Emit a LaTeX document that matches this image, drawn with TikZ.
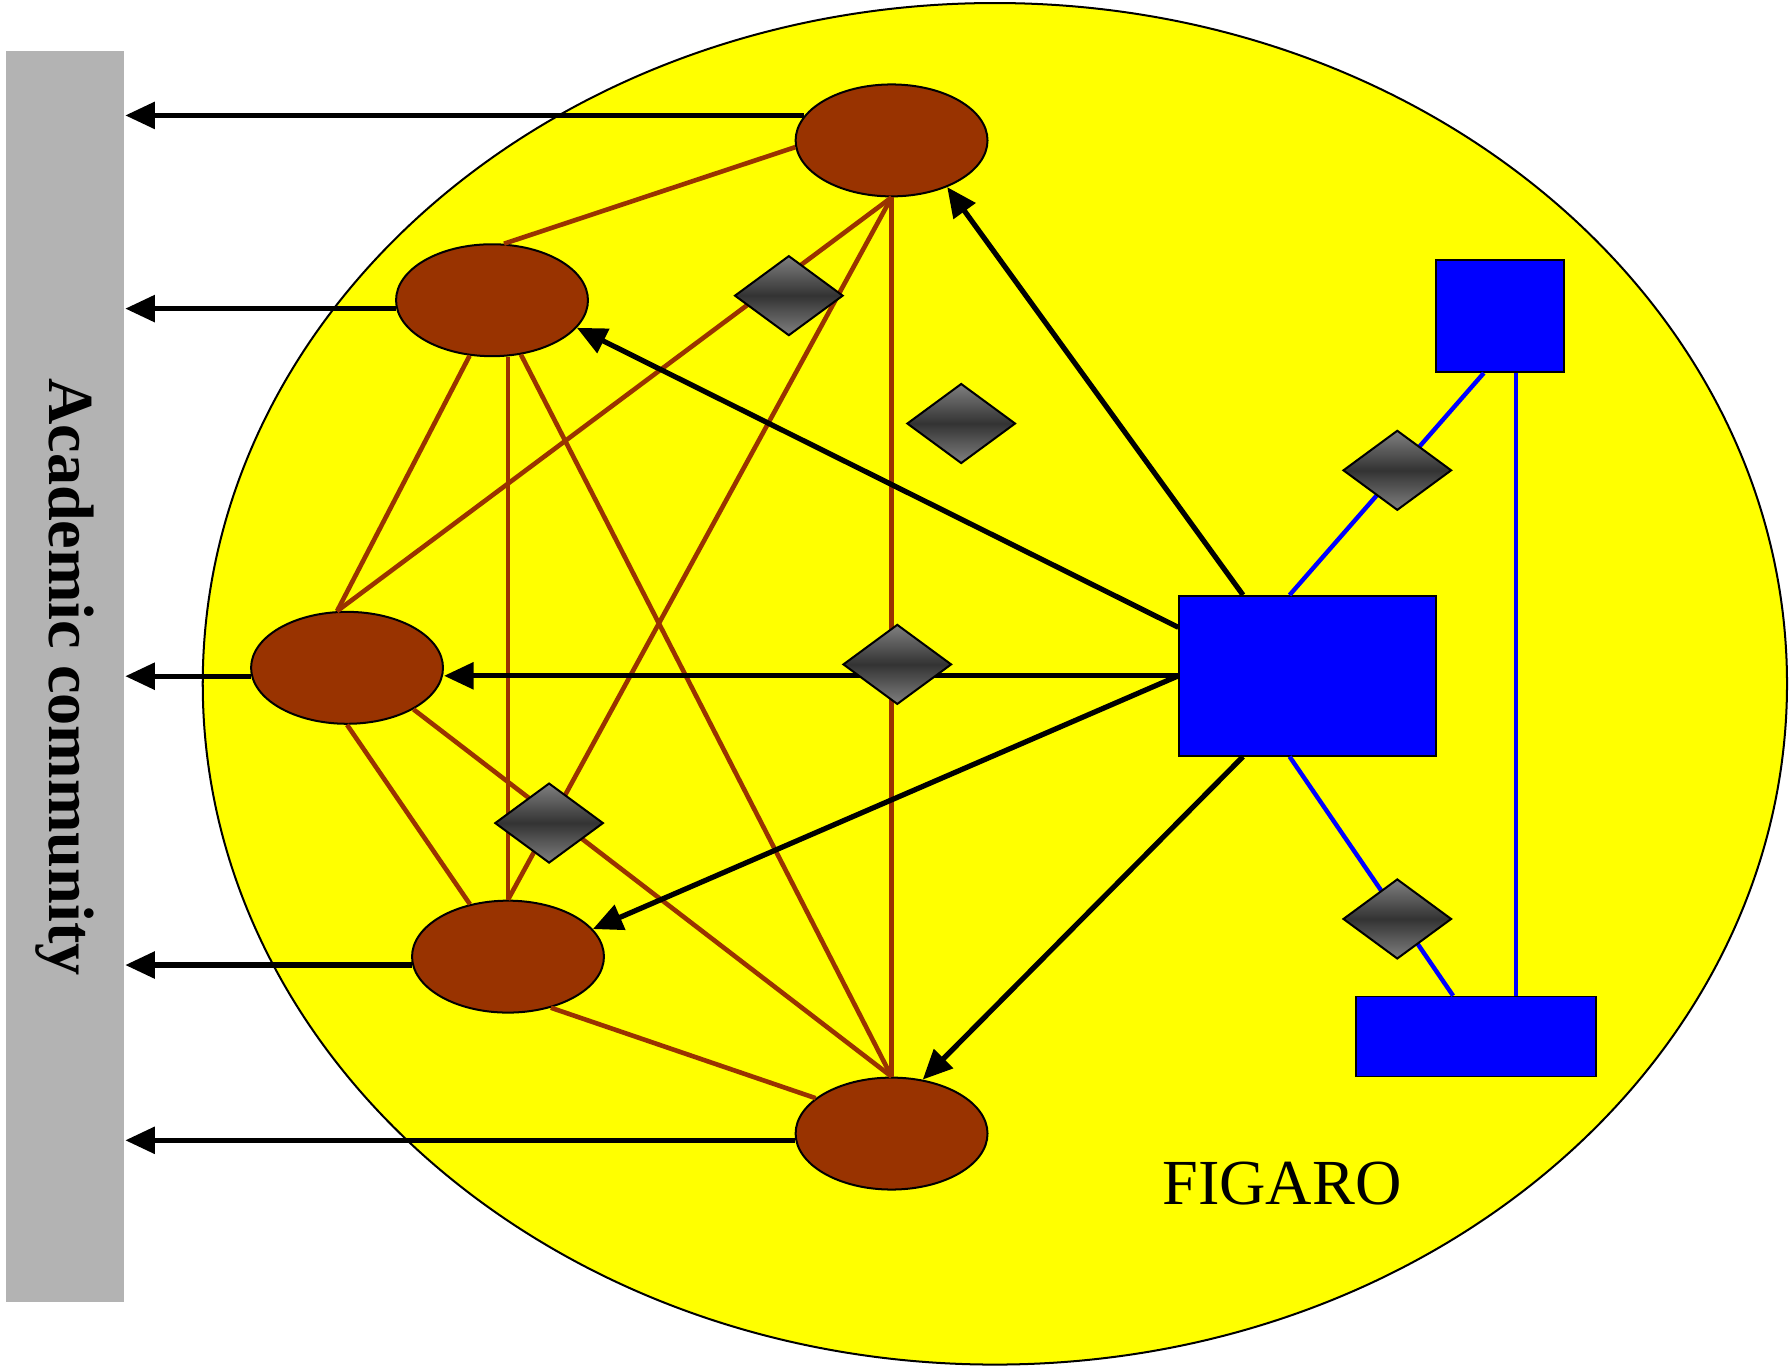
\documentclass[tikz,border=0pt]{standalone}
\usepackage{fontspec}
\setmainfont{Liberation Serif}
\usetikzlibrary{shapes.geometric,arrows.meta,calc}
\definecolor{rust}{RGB}{153,51,0}
\definecolor{barcol}{RGB}{179,179,179}
\definecolor{sun}{RGB}{255,255,0}
\definecolor{deepblue}{RGB}{0,0,255}
\tikzstyle{site}=[ellipse, fill=rust, draw=black, line width=0.5pt, minimum width=1.68cm, minimum height=0.98cm, inner sep=0pt]
\tikzstyle{blk}=[rectangle, fill=deepblue, draw=black, line width=0.4pt, inner sep=0pt, anchor=center]
\tikzstyle{gem}=[diamond, draw=black, line width=0.5pt, top color=gray, bottom color=gray, middle color=black!80, minimum width=0.95cm, minimum height=0.70cm, inner sep=0pt]
\tikzstyle{link}=[draw=rust, line width=1.15pt]
\tikzstyle{wire}=[draw=deepblue, line width=1.1pt]
\tikzstyle{push}=[draw=black, line width=1.3pt, -{Triangle[length=0.26cm,width=0.23cm]}]
\begin{document}
\begin{tikzpicture}[x=0.01cm, y=-0.01cm]
	\useasboundingbox (0,0) rectangle (1568,1197);

	% FIGARO area and the academic side
	\draw[fill=sun, line width=0.5pt] (871.5,599) ellipse [x radius=6.935cm, y radius=5.96cm];
	\node[rectangle, fill=barcol, minimum width=1.04cm, minimum height=10.95cm, inner sep=0pt] (bar) at (57,592.5) {};
	\node[rotate=-90, font=\fontsize{16}{19}\selectfont\bfseries] (barlabel) at (57,593) {Academic community};
	\node[font=\fontsize{16}{19}\selectfont] (figaro) at (1123,1037) {FIGARO};

	\node[site] (e1) at (781,123) {};
	\node[site] (e2) at (431,263) {};
	\node[site] (e3) at (304,585) {};
	\node[site] (e4) at (445,838) {};
	\node[site] (e5) at (781,993) {};

	\node[blk, minimum width=2.25cm, minimum height=1.40cm] (hub) at (1145.5,592) {};
	\node[blk, minimum width=1.12cm, minimum height=0.98cm] (tbox) at (1314,277) {};
	\node[blk, minimum width=2.10cm, minimum height=0.70cm] (bbox) at (1293,908) {};

	% mesh between the sites
	\draw[link] (e1.184) -- (e2.78);
	\draw[link] (e1.south) -- (e3.100);
	\draw[link] (e1.south) -- (e4.north);
	\draw[link] (e1.south) -- (e5.north);
	\draw[link] (e2.248) -- (e3.100);
	\draw[link] (e4.north |- e2.south) -- (e4.north);
	\draw[link] (e2.-62) -- (e5.north);
	\draw[link] (e3.-32) -- (e5.north);
	\draw[link] (e3.south) -- (e4.126);
	\draw[link] (e4.-50) -- (e5.155);

	% out to the academic community
	\draw[push] (e1.164) -- (e1.164 -| bar.east);
	\draw[push] (e2.185) -- (e2.185 -| bar.east);
	\draw[push] (e3.185) -- (e3.185 -| bar.east);
	\draw[push] (e4.185) -- (e4.185 -| bar.east);
	\draw[push] (e5.184) -- (e5.184 -| bar.east);

	% from the hub to the sites
	\draw[push] ($(hub.north west)!0.25!(hub.north east)$) -- (e1.-40);
	\draw[push] ($(hub.north west)!0.2!(hub.south west)$) -- (e2.-18);
	\draw[push] (hub.west) -- (hub.west -| e3.east);
	\draw[push] (hub.west) -- (e4.18);
	\draw[push] ($(hub.south west)!0.25!(hub.south east)$) -- (e5.60);

	\draw[wire] ($(hub.north west)!0.43!(hub.north east)$) -- ($(tbox.south west)!0.375!(tbox.south east)$);
	\draw[wire] ($(hub.south west)!0.43!(hub.south east)$) -- ($(bbox.north west)!0.405!(bbox.north east)$);
	\draw[wire] ($(tbox.south west)!0.625!(tbox.south east)$) coordinate (drop) -- (drop |- bbox.north);

	\node[gem] (g1) at (691,259) {};
	\node[gem] (g2) at (842,371) {};
	\node[gem] (g3) at (1224,412) {};
	\node[gem] (g4) at (786,582) {};
	\node[gem] (g5) at (481,721) {};
	\node[gem] (g6) at (1224,805) {};
\end{tikzpicture}
\end{document}
